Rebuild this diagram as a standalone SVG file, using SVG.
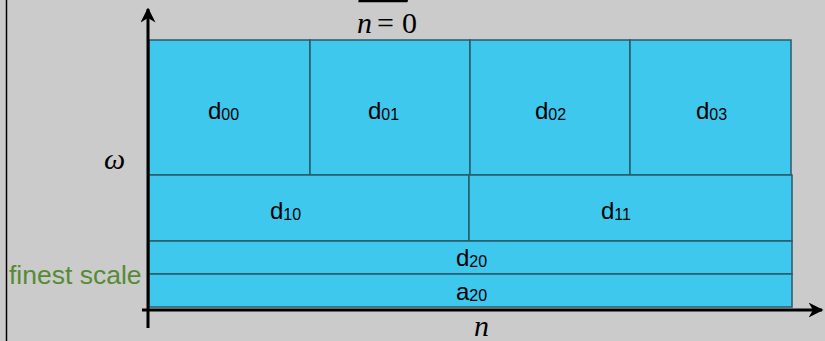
<svg xmlns="http://www.w3.org/2000/svg" width="825" height="341" viewBox="0 0 825 341">
<defs>
<style>
.cell{fill:#3ec8ee;stroke:#2b5a6a;stroke-width:1.5}
.lbl{font-family:"Liberation Sans",Arial,sans-serif;font-size:24px;fill:#000}
.sub{font-size:16px}
.math{font-family:"Liberation Serif","DejaVu Serif",serif;font-size:30px;fill:#000}
.axis{stroke:#000;stroke-width:3;fill:none}
</style>
<marker id="arr" viewBox="0 0 10 10" refX="9" refY="5" markerWidth="5" markerHeight="5" orient="auto" markerUnits="strokeWidth">
<path d="M0,0 L10,5 L0,10 L3,5 Z" fill="#000"/>
</marker>
</defs>
<rect width="825" height="341" fill="#cbcbcb"/>
<line x1="6.5" y1="0" x2="6.5" y2="341" stroke="#000" stroke-width="1.5"/>
<text x="386" y="-13" text-anchor="middle" font-family="DejaVu Serif,serif" font-size="79" fill="#000">∑</text>
<text class="math" y="33"><tspan x="357" font-style="italic">n</tspan><tspan x="377">=</tspan><tspan x="402">0</tspan></text>
<text class="math" x="104" y="169" font-size="32" font-style="italic">ω</text>
<text class="math" x="474" y="336" font-style="italic">n</text>
<text x="9" y="284" font-family="Liberation Sans,Arial,sans-serif" font-size="26.5" fill="#568a35">finest scale</text>
<g id="d00"><rect class="cell" x="149" y="40" width="161" height="135"/><text class="lbl" x="208" y="119">d<tspan class="sub" dy="1">00</tspan></text></g>
<g id="d01"><rect class="cell" x="310" y="40" width="160" height="135"/><text class="lbl" x="368" y="119">d<tspan class="sub" dy="1">01</tspan></text></g>
<g id="d02"><rect class="cell" x="470" y="40" width="160" height="135"/><text class="lbl" x="535" y="119">d<tspan class="sub" dy="1">02</tspan></text></g>
<g id="d03"><rect class="cell" x="630" y="40" width="161" height="135"/><text class="lbl" x="696" y="119">d<tspan class="sub" dy="1">03</tspan></text></g>
<g id="d10"><rect class="cell" x="149" y="175" width="320" height="66"/><text class="lbl" x="270" y="219">d<tspan class="sub" dy="1">10</tspan></text></g>
<g id="d11"><rect class="cell" x="469" y="175" width="323" height="66"/><text class="lbl" x="601" y="219">d<tspan class="sub" dy="1">11</tspan></text></g>
<g id="d20"><rect class="cell" x="149" y="241" width="643" height="33"/><text class="lbl" x="456" y="266">d<tspan class="sub" dy="1">20</tspan></text></g>
<g id="a20"><rect class="cell" x="149" y="274" width="643" height="33"/><text class="lbl" x="456" y="300">a<tspan class="sub" dy="1">20</tspan></text></g>
<g id="connectors">
<line class="axis" x1="148" y1="328" x2="148" y2="9" marker-end="url(#arr)"/>
<line class="axis" x1="142" y1="310" x2="822" y2="310" marker-end="url(#arr)"/>
</g>
</svg>
